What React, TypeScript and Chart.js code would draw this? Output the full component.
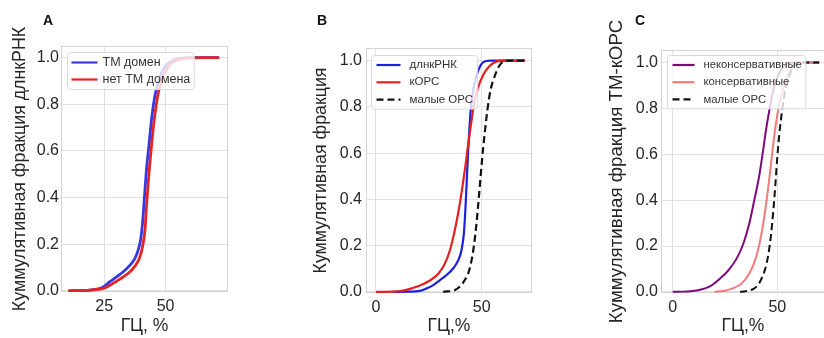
import React, { useEffect, useRef } from "react";
import { Chart, registerables } from "chart.js";

Chart.register(...registerables);

// ---------- data ----------
const Y_TICKS = [0, 0.2, 0.4, 0.6, 0.8, 1.0];
const A_X_TICKS = [25, 50];
const BC_X_TICKS = [0, 50];

// Panel A
const A_TM_GC = [10.5, 18, 22, 24.6, 27.3, 30.0, 32.8, 35.5, 37.5, 38.8, 39.8, 40.6, 41.3, 42.2, 43.3, 44.4, 45.6, 46.9, 48.3, 50.3, 53.0, 57.1, 62, 71.8];
const A_TM_FRAC = [0, 0.002, 0.007, 0.017, 0.039, 0.06, 0.082, 0.11, 0.139, 0.175, 0.218, 0.29, 0.39, 0.519, 0.633, 0.748, 0.834, 0.891, 0.934, 0.97, 0.989, 0.998, 1.0, 1.0];
const A_NOTM_GC = [10.3, 18, 22, 24.6, 27.3, 30.0, 32.8, 35.5, 37.5, 39.3, 40.6, 41.6, 42.2, 43.0, 44.1, 45.2, 46.3, 47.6, 49.3, 51.7, 55.1, 59.8, 65, 71.8];
const A_NOTM_FRAC = [0, 0.002, 0.006, 0.01, 0.024, 0.041, 0.06, 0.082, 0.106, 0.139, 0.189, 0.261, 0.361, 0.476, 0.605, 0.719, 0.805, 0.877, 0.927, 0.97, 0.991, 0.999, 1.0, 1.0];

// Panel B
const B_LNC_GC = [8, 15, 20.8, 24.0, 27.1, 30.3, 33.4, 36.6, 39.0, 40.5, 41.6, 42.3, 42.9, 43.5, 44.2, 45.0, 46.4, 48.4, 50.8, 53.9, 60, 70.5];
const B_LNC_FRAC = [0, 0.001, 0.004, 0.015, 0.029, 0.051, 0.073, 0.102, 0.138, 0.182, 0.254, 0.356, 0.472, 0.588, 0.704, 0.805, 0.892, 0.958, 0.994, 1.0, 1.0, 1.0];
const B_CORF_GC = [0, 8, 11.4, 16.1, 20.8, 25.5, 29.5, 32.6, 35.0, 37.0, 38.9, 40.7, 42.3, 43.7, 45.3, 46.8, 49.2, 52.0, 55.5, 60.2, 70.5];
const B_CORF_FRAC = [0, 0.001, 0.003, 0.013, 0.027, 0.049, 0.078, 0.122, 0.18, 0.254, 0.341, 0.442, 0.544, 0.645, 0.747, 0.834, 0.907, 0.958, 0.99, 1.0, 1.0];
const B_SORF_GC = [31.8, 37.4, 39.7, 42.1, 44.2, 45.7, 47.0, 48.1, 49.2, 50.3, 51.4, 52.7, 54.2, 56.4, 58.7, 61.8, 70.5];
const B_SORF_FRAC = [0, 0.008, 0.023, 0.052, 0.096, 0.161, 0.248, 0.35, 0.467, 0.583, 0.684, 0.786, 0.873, 0.939, 0.983, 1.0, 1.0];

// Panel C
const C_NONCONS_GC = [0, 5, 8.3, 13.1, 17.8, 22.6, 26.6, 30.6, 33.8, 36.6, 39.0, 41.3, 43.0, 44.6, 46.2, 48.1, 50.5, 53.7, 57.7, 70];
const C_NONCONS_FRAC = [0, 0.001, 0.003, 0.009, 0.024, 0.058, 0.094, 0.146, 0.211, 0.298, 0.4, 0.503, 0.604, 0.706, 0.793, 0.881, 0.946, 0.99, 1.0, 1.0];
const C_CONS_GC = [20, 24.2, 29.0, 33.0, 36.2, 38.9, 41.0, 42.9, 44.6, 46.0, 47.3, 48.6, 50.0, 51.6, 53.7, 56.1, 59.3, 63, 70];
const C_CONS_FRAC = [0, 0.004, 0.016, 0.037, 0.074, 0.125, 0.19, 0.278, 0.38, 0.481, 0.583, 0.685, 0.772, 0.845, 0.911, 0.962, 0.994, 1.0, 1.0];
const C_SORF_GC = [32.2, 37.8, 40.2, 42.2, 44.1, 45.7, 47.0, 48.1, 49.1, 50.0, 51.0, 52.3, 54.0, 56.1, 58.9, 62.5, 70];
const C_SORF_FRAC = [0, 0.009, 0.024, 0.053, 0.097, 0.162, 0.25, 0.355, 0.471, 0.588, 0.69, 0.792, 0.887, 0.952, 0.996, 1.0, 1.0];

// ---------- styles ----------
const FONT = "'Liberation Sans', Arial, Helvetica, sans-serif";
const TEXT = "#262626";
const GRID = "#e0e0e0";
const FRAME = "#d4d4d4";

const pts = (xs: number[], ys: number[]) => xs.map((x, i) => ({ x, y: ys[i] }));

const framePlugin = {
  id: "frame",
  beforeDatasetsDraw(chart: any) {
    const { ctx, chartArea: a } = chart;
    ctx.save();
    ctx.strokeStyle = FRAME;
    ctx.lineWidth = 1;
    ctx.strokeRect(Math.round(a.left) + 0.5, Math.round(a.top) + 0.5, Math.round(a.right - a.left) - 1, Math.round(a.bottom - a.top) - 1);
    ctx.restore();
  },
};

const innerLegendPlugin = {
  id: "innerLegend",
  afterDatasetsDraw(chart: any, _args: any, o: any) {
    const { ctx, chartArea: a } = chart;
    const ds = chart.data.datasets;
    ctx.save();
    ctx.font = `${o.fontSize}px ${FONT}`;
    let tw = 0;
    ds.forEach((d: any) => { tw = Math.max(tw, ctx.measureText(d.label).width); });
    const left = Math.round(a.left + o.dx) + 0.5;
    const top = Math.round(a.top + o.dy) + 0.5;
    const w = o.textX + tw + o.padRight;
    const h = o.firstY * 2 + (ds.length - 1) * o.spacing;
    ctx.beginPath();
    if (ctx.roundRect) ctx.roundRect(left, top, w, h, 3);
    else ctx.rect(left, top, w, h);
    ctx.fillStyle = "rgba(255,255,255,0.8)";
    ctx.fill();
    ctx.strokeStyle = "#d9d9d9";
    ctx.lineWidth = 1;
    ctx.stroke();
    ds.forEach((d: any, i: number) => {
      const y = top + o.firstY + i * o.spacing;
      ctx.beginPath();
      ctx.setLineDash(d.borderDash || []);
      ctx.strokeStyle = d.borderColor;
      ctx.lineWidth = o.lineWidth;
      ctx.moveTo(left + o.lineX, y);
      ctx.lineTo(left + o.lineX + o.lineLen, y);
      ctx.stroke();
      ctx.setLineDash([]);
      ctx.fillStyle = "#333333";
      ctx.textBaseline = "middle";
      ctx.textAlign = "left";
      ctx.fillText(d.label, left + o.textX, y);
    });
    ctx.restore();
  },
};

type Series = { label: string; gc: number[]; frac: number[]; color: string; dash?: number[]; width: number };
type PanelCfg = {
  left: number; width: number;
  padTop: number; padRight: number; yAxisW: number; xAxisH: number;
  xMin: number; xMax: number; yMin: number; yMax: number; xTicks: number[];
  yTitle: string; xTitle: string; yTitlePad: number; yTitleSize: number; yTickPad: number;
  series: Series[]; legend: any;
};

const PANELS: PanelCfg[] = [
  {
    left: 0, width: 240, padTop: 46, padRight: 12, yAxisW: 61, xAxisH: 46,
    xMin: 7.4, xMax: 75.4, yMin: -0.005, yMax: 1.05, xTicks: A_X_TICKS,
    yTitle: "Куммулятивная фракция длнкРНК", xTitle: "ГЦ, %", yTitlePad: 9.5, yTitleSize: 17.8, yTickPad: 2,
    series: [
      { label: "ТМ домен", gc: A_TM_GC, frac: A_TM_FRAC, color: "#3838e2", width: 2.8 },
      { label: "нет ТМ домена", gc: A_NOTM_GC, frac: A_NOTM_FRAC, color: "#e22424", width: 2.8 },
    ],
    legend: { dx: 6, dy: 6, firstY: 10, spacing: 17, lineX: 4, lineLen: 26, textX: 35, padRight: 4, fontSize: 12.5, lineWidth: 2.2 },
  },
  {
    left: 300, width: 245, padTop: 48, padRight: 13, yAxisW: 66, xAxisH: 45,
    xMin: -4.7, xMax: 73.8, yMin: -0.005, yMax: 1.055, xTicks: BC_X_TICKS,
    yTitle: "Куммулятивная фракция", xTitle: "ГЦ,%", yTitlePad: 10.5, yTitleSize: 17.8, yTickPad: 4,
    series: [
      { label: "длнкРНК", gc: B_LNC_GC, frac: B_LNC_FRAC, color: "#1e1ee0", width: 2.2 },
      { label: "кОРС", gc: B_CORF_GC, frac: B_CORF_FRAC, color: "#e42020", width: 2.2 },
      { label: "малые ОРС", gc: B_SORF_GC, frac: B_SORF_FRAC, color: "#111111", dash: [7, 4], width: 2.2 },
    ],
    legend: { dx: 5, dy: 7, firstY: 9.5, spacing: 17.3, lineX: 5, lineLen: 24, textX: 38, padRight: 4.5, fontSize: 11.5, lineWidth: 2.2 },
  },
  {
    left: 595, width: 240, padTop: 50, padRight: 10, yAxisW: 66, xAxisH: 45,
    xMin: -5.6, xMax: 72.8, yMin: -0.005, yMax: 1.055, xTicks: BC_X_TICKS,
    yTitle: "Куммулятивная фракция ТМ-кОРС", xTitle: "ГЦ,%", yTitlePad: 11, yTitleSize: 18.7, yTickPad: 3,
    series: [
      { label: "неконсервативные", gc: C_NONCONS_GC, frac: C_NONCONS_FRAC, color: "#7d087d", width: 2 },
      { label: "консервативные", gc: C_CONS_GC, frac: C_CONS_FRAC, color: "#f37a7a", width: 2 },
      { label: "малые ОРС", gc: C_SORF_GC, frac: C_SORF_FRAC, color: "#111111", dash: [7, 4], width: 2 },
    ],
    legend: { dx: 6, dy: 5, firstY: 9.5, spacing: 17.2, lineX: 5, lineLen: 22, textX: 36, padRight: 4, fontSize: 11.3, lineWidth: 2.2 },
  },
];

const PANEL_LETTERS = [
  { text: "A", left: 43 },
  { text: "B", left: 317 },
  { text: "C", left: 635 },
];

function Panel({ cfg }: { cfg: PanelCfg }) {
  const ref = useRef<HTMLCanvasElement | null>(null);
  useEffect(() => {
    if (!ref.current) return;
    const n = cfg.series.length;
    const chart = new Chart(ref.current, {
      type: "line",
      data: {
        datasets: cfg.series.map((s, i) => ({
          label: s.label,
          data: pts(s.gc, s.frac),
          borderColor: s.color,
          backgroundColor: s.color,
          borderWidth: s.width,
          borderDash: s.dash || [],
          pointRadius: 0,
          cubicInterpolationMode: "monotone",
          fill: false,
          order: n - i,
        })),
      },
      plugins: [framePlugin, innerLegendPlugin],
      options: {
        responsive: false,
        animation: false,
        events: [],
        layout: { padding: { top: cfg.padTop, right: cfg.padRight, left: 0, bottom: 0 } },
        plugins: {
          legend: { display: false },
          tooltip: { enabled: false },
          innerLegend: cfg.legend,
        } as any,
        scales: {
          x: {
            type: "linear",
            min: cfg.xMin,
            max: cfg.xMax,
            afterBuildTicks: (s: any) => { s.ticks = cfg.xTicks.map((v) => ({ value: v })); },
            afterFit: (s: any) => { s.height = cfg.xAxisH; },
            grid: { color: GRID, drawTicks: false, lineWidth: 1 },
            border: { display: false },
            ticks: { padding: 5, color: TEXT, font: { family: FONT, size: 16 }, callback: (v: any) => String(v), maxRotation: 0 },
            title: { display: true, text: cfg.xTitle, color: TEXT, font: { family: FONT, size: 17.5, lineHeight: 1.2 }, padding: { top: 0, bottom: 1 } },
          },
          y: {
            type: "linear",
            min: cfg.yMin,
            max: cfg.yMax,
            afterBuildTicks: (s: any) => { s.ticks = Y_TICKS.map((v) => ({ value: v })); },
            afterFit: (s: any) => { s.width = cfg.yAxisW; },
            grid: { color: GRID, drawTicks: false, lineWidth: 1 },
            border: { display: false },
            ticks: { padding: cfg.yTickPad, color: TEXT, font: { family: FONT, size: 16 }, callback: (v: any) => Number(v).toFixed(1) },
            title: { display: true, text: cfg.yTitle, color: TEXT, font: { family: FONT, size: cfg.yTitleSize, lineHeight: 1.2 }, padding: { top: cfg.yTitlePad, bottom: 0 } },
          },
        },
      } as any,
    });
    return () => chart.destroy();
  }, [cfg]);
  return (
    <canvas
      ref={ref}
      width={cfg.width}
      height={338}
      style={{ position: "absolute", left: cfg.left, top: 0, display: "block" }}
    />
  );
}

export default function App() {
  return (
    <div style={{ position: "absolute", left: 0, top: 0, width: 824, height: 338, overflow: "hidden", background: "#ffffff" }}>
      {PANELS.map((p, i) => (
        <Panel key={i} cfg={p} />
      ))}
      {PANEL_LETTERS.map((l) => (
        <div
          key={l.text}
          style={{ position: "absolute", left: l.left, top: 13, fontFamily: FONT, fontWeight: "bold", fontSize: 14, lineHeight: "14px", color: "#111" }}
        >
          {l.text}
        </div>
      ))}
    </div>
  );
}
